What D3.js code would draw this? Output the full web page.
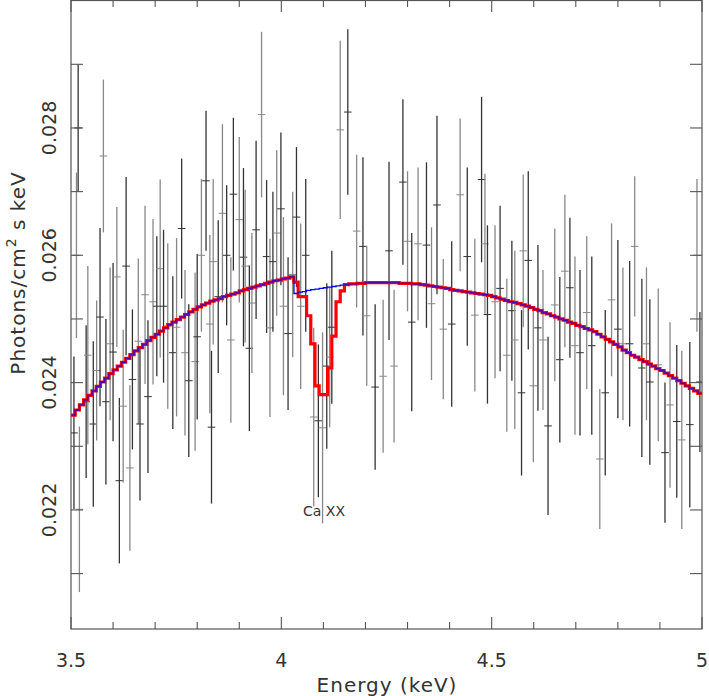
<!DOCTYPE html>
<html>
<head>
<meta charset="utf-8">
<script src="https://cdn.jsdelivr.net/npm/d3@7"></script>
<style>
  body { margin: 0; background: #fff; }
  svg text { font-family: "DejaVu Sans", sans-serif; fill: #333; }
</style>
</head>
<body>
<svg id="chart" width="709" height="696"></svg>
<script>
// observed spectrum (bin centre in keV, flux, 1-sigma error)
const energies = [3.507,3.513,3.517,3.520,3.536,3.540,3.553,3.561,3.569,3.577,3.583,3.593,3.600,3.609,3.615,3.624,3.631,3.640,3.646,3.660,
  3.664,3.676,3.683,3.695,3.704,3.712,3.720,3.730,3.742,3.751,3.763,3.771,3.780,3.795,3.800,3.810,3.821,3.830,3.834,3.838,
  3.850,3.860,3.870,3.880,3.886,3.900,3.910,3.914,3.924,3.930,3.940,3.953,3.965,3.973,3.980,3.989,3.999,4.005,4.016,4.027,
  4.036,4.046,4.058,4.077,4.088,4.098,4.108,4.115,4.120,4.140,4.158,4.179,4.194,4.203,4.223,4.242,4.256,4.268,4.289,4.300,
  4.310,4.325,4.345,4.357,4.370,4.385,4.405,4.425,4.442,4.460,4.476,4.484,4.490,4.508,4.520,4.536,4.548,4.555,4.571,4.575,
  4.587,4.599,4.610,4.622,4.634,4.650,4.662,4.674,4.686,4.698,4.710,4.726,4.738,4.757,4.770,4.785,4.800,4.812,4.828,4.840,
  4.857,4.868,4.876,4.896,4.912,4.924,4.940,4.952,4.971,4.988,4.995];
const fluxes = [.02321,.0260,.0280,.02201,.0237,.02443,.02335,.02419,.02503,.02756,.0237,.02461,.02448,.02566,.02246,.02363,.02583,.02266,.02405,.02465,
  .02335,.02538,.02378,.02527,.0252,.02579,.0252,.02489,.02447,.02487,.02642,.02447,.02403,.02433,.02472,.0260,.02717,.02492,.0233,.0259,
  .02535,.02666,.0260,.02467,.02696,.02656,.02597,.02583,.02454,.02525,.0264,.02821,.02598,.02486,.0259,.02635,.02673,.0252,.02477,.0257,
  .0266,.0252,.0260,.02346,.0234,.02329,.02426,.0244,.02487,.02797,.02825,.02638,.02614,.02505,.02393,.0241,.02607,.02426,.02715,.02622,
  .02495,.02618,.02616,.02524,.02679,.02484,.02492,.02695,.02598,.02506,.02719,.02618,.02507,.02527,.02548,.02443,.02513,.02467,.02384,.02607,
  .02592,.02395,.02486,.02467,.02332,.02522,.02436,.02575,.02549,.02458,.02447,.0251,.02458,.0228,.02384,.0253,.02484,.02461,.02461,.02614,
  .02423,.02461,.02401,.02428,.0229,.02365,.02339,.0231,.02334,.0260,.02401];
const errors = [.0012,.0013,.0010,.0013,.0012,.0014,.0013,.0011,.0014,.0012,.0013,.0012,.0014,.0011,.0013,.0012,.0014,.0013,.0011,.0013,
  .0012,.0014,.0012,.0013,.0011,.0014,.0012,.0013,.0012,.0014,.0011,.0013,.0012,.0014,.0013,.0012,.0011,.0014,.0012,.0013,
  .0012,.0014,.0011,.0013,.0012,.0013,.0014,.0012,.0013,.0011,.0014,.0013,.0012,.0014,.0011,.0013,.0012,.0014,.0012,.0013,
  .0011,.0013,.0012,.0014,.0012,.0015,.0013,.0011,.0012,.0014,.0013,.0012,.0014,.0011,.0013,.0012,.0014,.0012,.0013,.0011,
  .0014,.0012,.0013,.0012,.0014,.0011,.0013,.0012,.0014,.0012,.0013,.0011,.0014,.0012,.0013,.0012,.0011,.0014,.0013,.0012,
  .0014,.0012,.0013,.0011,.0014,.0012,.0013,.0012,.0011,.0014,.0013,.0012,.0014,.0011,.0013,.0012,.0014,.0012,.0013,.0011,
  .0014,.0012,.0013,.0012,.0011,.0013,.0012,.0014,.0013,.0012,.0011];

// model, one value per 0.01 keV channel starting at 3.50
const modelStart = 3.50, modelStep = 0.01;
const continuum = [.02349,.02357,.02365,.02373,.02380,.02387,.02394,.02401,.02407,.02414,
  .02420,.02426,.02432,.02438,.02444,.02450,.02455,.02460,.02466,.02471,
  .02476,.02481,.02486,.02491,.02495,.02499,.02503,.02507,.02511,.02515,
  .02519,.02522,.02525,.02528,.02530,.02532,.02535,.02537,.02539,.02541,
  .02544,.02546,.02548,.02550,.02552,.02554,.02556,.02558,.02560,.02561,
  .02563,.02564,.02566,.02540,.02542,.02543,.02545,.02546,.02547,.02548,
  .02549,.02550,.02551,.02552,.02553,.02554,.02555,.02555,.02556,.02556,
  .02557,.02557,.02557,.02557,.02557,.02557,.02557,.02557,.02556,.02556,
  .02556,.02555,.02555,.02554,.02553,.02552,.02551,.02550,.02549,.02548,
  .02546,.02545,.02544,.02543,.02542,.02541,.02540,.02539,.02538,.02537,
  .02535,.02533,.02531,.02529,.02527,.02526,.02524,.02522,.02520,.02518,
  .02515,.02513,.02510,.02508,.02505,.02503,.02500,.02498,.02495,.02493,
  .02490,.02488,.02485,.02483,.02480,.02476,.02472,.02468,.02464,.02460,
  .02456,.02451,.02447,.02443,.02440,.02436,.02433,.02429,.02426,.02422,
  .02419,.02415,.02411,.02407,.02403,.02399,.02395,.02391,.02387,.02383];
// Ca XX absorption: channels 4.03 .. 4.14 of the line model
const lineStart = 4.03;
const lineModel = [.02558,.02535,.02535,.02505,.02461,.02395,.02381,.02381,.02423,.02473,.02527,.02544];

const xTicks = [3.5, 4, 4.5, 5];
const yTicks = [0.022, 0.024, 0.026, 0.028];

const svg = d3.select('#chart');
const m = { left: 71, right: 702, top: 0, bottom: 629 };

const x = d3.scaleLinear().domain([3.5, 5]).range([m.left, m.right]);
const y = d3.scaleLinear().domain([0.02013, 0.03001]).range([m.bottom, m.top]);

const plot = svg.append('g');
plot.append('clipPath').attr('id', 'clip').append('rect')
  .attr('x', m.left).attr('y', m.top).attr('width', m.right - m.left).attr('height', m.bottom - m.top);
const inner = plot.append('g').attr('clip-path', 'url(#clip)');

// data crosses
const pts = energies.map((e, i) => ({ e, f: fluxes[i], s: errors[i], i }));
const gData = inner.append('g');
pts.forEach(d => {
  const c = d.i % 2 ? '#888' : '#333';
  gData.append('line').attr('x1', x(d.e)).attr('x2', x(d.e))
    .attr('y1', y(d.f - d.s)).attr('y2', y(d.f + d.s))
    .attr('stroke', c).attr('stroke-width', 1.3);
  gData.append('line').attr('x1', x(d.e - 0.009)).attr('x2', x(d.e + 0.009))
    .attr('y1', y(d.f)).attr('y2', y(d.f))
    .attr('stroke', c).attr('stroke-width', 1);
});

// step paths
const stepPts = vals => vals.map((v, i) => [modelStart + i * modelStep, v]).concat([[modelStart + vals.length * modelStep, vals[vals.length - 1]]]);
const step = d3.line().x(d => x(d[0])).y(d => y(d[1])).curve(d3.curveStepAfter);

const redVals = continuum.map((v, i) => {
  const e = +(modelStart + i * modelStep).toFixed(2);
  const k = Math.round((e - lineStart) / modelStep);
  return k >= 0 && k < lineModel.length ? lineModel[k] : v;
});

inner.append('path').datum(stepPts(redVals)).attr('d', step)
  .attr('fill', 'none').attr('stroke', '#f00').attr('stroke-width', 3.2);
inner.append('path').datum(stepPts(continuum)).attr('d', step)
  .attr('fill', 'none').attr('stroke', '#00f').attr('stroke-width', 1.3);
inner.append('path').datum(stepPts(redVals)).attr('d', step)
  .attr('fill', 'none').attr('stroke', '#f00').attr('stroke-width', 1.2).attr('opacity', 0.35);

// frame
plot.append('rect').attr('x', m.left).attr('y', m.top + 0.5)
  .attr('width', m.right - m.left).attr('height', m.bottom - m.top - 0.5)
  .attr('fill', 'none').attr('stroke', '#555').attr('stroke-width', 1.2);

// ticks on all four sides
const tk = svg.append('g').attr('stroke', '#555').attr('stroke-width', 1.1);
d3.range(3.5, 5.001, 0.1).forEach(v => {
  const major = Math.abs(v * 2 - Math.round(v * 2)) < 1e-6;
  const L = major ? 12 : 7;
  tk.append('line').attr('x1', x(v)).attr('x2', x(v)).attr('y1', m.bottom).attr('y2', m.bottom - L);
  tk.append('line').attr('x1', x(v)).attr('x2', x(v)).attr('y1', m.top).attr('y2', m.top + L);
});
d3.range(0.021, 0.0295, 0.001).forEach(v => {
  tk.append('line').attr('x1', m.left).attr('x2', m.left + 12).attr('y1', y(v)).attr('y2', y(v));
  tk.append('line').attr('x1', m.right).attr('x2', m.right - 12).attr('y1', y(v)).attr('y2', y(v));
});

// tick labels
svg.append('g').selectAll('text').data(xTicks).join('text')
  .attr('x', d => x(d)).attr('y', 667).attr('text-anchor', 'middle')
  .attr('font-size', 19).text(d => d3.format('')(d));
svg.append('g').selectAll('text').data(yTicks).join('text')
  .attr('transform', d => `translate(56,${y(d)}) rotate(-90)`)
  .attr('text-anchor', 'middle').attr('font-size', 19).text(d => d.toFixed(3));

// axis titles
svg.append('text').attr('x', 387).attr('y', 692).attr('text-anchor', 'middle')
  .attr('font-family', 'DejaVu Serif').attr('font-size', 20).attr('letter-spacing', 1)
  .text('Energy (keV)');
const yl = svg.append('text').attr('transform', 'translate(25,273) rotate(-90)')
  .attr('text-anchor', 'middle').attr('font-family', 'DejaVu Serif').attr('font-size', 20).attr('letter-spacing', 1);
yl.append('tspan').text('Photons/cm');
yl.append('tspan').attr('dy', -9).attr('font-size', 14).text('2');
yl.append('tspan').attr('dy', 9).text(' s keV');

svg.append('text').attr('x', 324).attr('y', 516).attr('text-anchor', 'middle')
  .attr('font-family', 'DejaVu Sans Mono').attr('font-size', 14).text('Ca XX');
</script>
</body>
</html>
